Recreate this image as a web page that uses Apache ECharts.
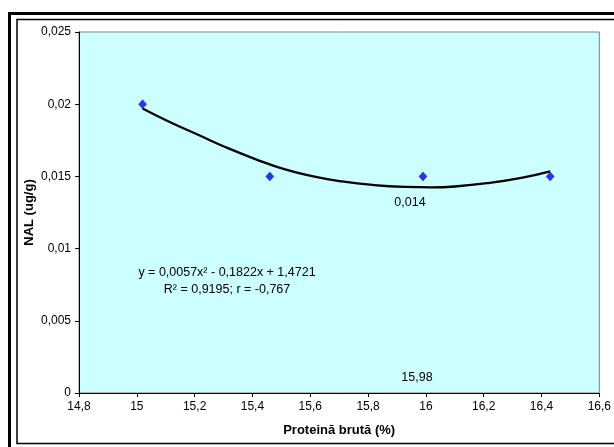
<!DOCTYPE html>
<html>
<head>
<meta charset="utf-8">
<script src="https://cdn.jsdelivr.net/npm/echarts@6/dist/echarts.min.js"></script>
<style>
html,body{margin:0;padding:0;background:#fff;}
#chart{width:614px;height:447px;}
</style>
</head>
<body>
<div id="chart"></div>
<script>
// Observed points
var proteinX = [15.02, 15.46, 15.99, 16.43];
var nalY = [0.02, 0.015, 0.015, 0.015];
// Trend line
var trendX = [15.02, 15.11, 15.21, 15.31, 15.41, 15.51, 15.61, 15.71, 15.82, 15.93, 16.02, 16.10, 16.22, 16.33, 16.43];
var trendY = [0.0197, 0.0188, 0.0179, 0.0170, 0.0162, 0.0155, 0.0150, 0.01465, 0.0144, 0.01427, 0.01424, 0.0143, 0.01455, 0.0149, 0.01535];
// Tick labels
var xTickLabels = ['14,8','15','15,2','15,4','15,6','15,8','16','16,2','16,4','16,6'];
var yTickLabels = ['0','0,005','0,01','0,015','0,02','0,025'];
// Texts
var xTitle = 'Proteină brută (%)';
var yTitle = 'NAL (ug/g)';
var eqLine1 = 'y = 0,0057x² - 0,1822x + 1,4721';
var eqLine2 = 'R² = 0,9195; r = -0,767';
var minLabel = '0,014';
var vertexLabel = '15,98';

var chart = echarts.init(document.getElementById('chart'), null, {renderer:'canvas'});
var font = 'Liberation Sans, Arial, sans-serif';

var pts = proteinX.map(function(x,i){return [x, nalY[i]];});
var trend = trendX.map(function(x,i){return [x, trendY[i]];});

var option = {
  animation:false,
  backgroundColor:'#fff',
  textStyle:{fontFamily:font},
  grid:{left:79, right:4, top:32, bottom:54, show:true, backgroundColor:'#CCFFFF', borderColor:'#808080', borderWidth:1},
  xAxis:{
    type:'value', min:14.8, max:16.6, interval:0.2,
    name:xTitle, nameLocation:'middle', nameGap:31,
    nameTextStyle:{fontFamily:font, fontSize:13, fontWeight:'bold', color:'#000'},
    axisLine:{show:true, onZero:false, lineStyle:{color:'#000', width:1}},
    axisTick:{show:true, inside:false, length:4, lineStyle:{color:'#000'}},
    axisLabel:{color:'#000', fontSize:12, fontFamily:font, margin:8,
      formatter:function(v,i){return xTickLabels[i];}},
    splitLine:{show:false}
  },
  yAxis:{
    type:'value', min:0, max:0.025, interval:0.005,
    name:yTitle, nameLocation:'middle', nameGap:43, nameRotate:90, nameMoveOverlap:false,
    nameTextStyle:{fontFamily:font, fontSize:13, fontWeight:'bold', color:'#000'},
    axisLine:{show:true, onZero:false, lineStyle:{color:'#000', width:1}},
    axisTick:{show:true, inside:false, length:4, lineStyle:{color:'#000'}},
    axisLabel:{color:'#000', fontSize:12, fontFamily:font, margin:8,
      formatter:function(v,i){return yTickLabels[i];}},
    splitLine:{show:false}
  },
  series:[
    {type:'line', data:trend, smooth:true, symbol:'none', lineStyle:{color:'#000', width:2.3}, z:2},
    {type:'scatter', data:pts, symbol:'diamond', symbolSize:[8,9], itemStyle:{color:'#0000FF', borderColor:'#000080', borderWidth:0.5}, z:3}
  ],
  graphic:[
    {type:'rect', shape:{x:9.5, y:13.5, width:700, height:500}, style:{fill:'none', stroke:'#000', lineWidth:3}, z:100},
    {type:'rect', shape:{x:17, y:19.5, width:700, height:424}, style:{fill:'none', stroke:'#000', lineWidth:1.5}, z:100},
    {type:'text', x:227, y:273, style:{text:eqLine1, fontFamily:font, fontSize:12.5, fill:'#000', textAlign:'center', textVerticalAlign:'middle'}, z:50},
    {type:'text', x:227, y:290, style:{text:eqLine2, fontFamily:font, fontSize:12.5, fill:'#000', textAlign:'center', textVerticalAlign:'middle'}, z:50},
    {type:'text', x:410, y:203, style:{text:minLabel, fontFamily:font, fontSize:12.5, fill:'#000', textAlign:'center', textVerticalAlign:'middle'}, z:50},
    {type:'text', x:417, y:378, style:{text:vertexLabel, fontFamily:font, fontSize:12.5, fill:'#000', textAlign:'center', textVerticalAlign:'middle'}, z:50}
  ]
};
chart.setOption(option);
</script>
</body>
</html>
